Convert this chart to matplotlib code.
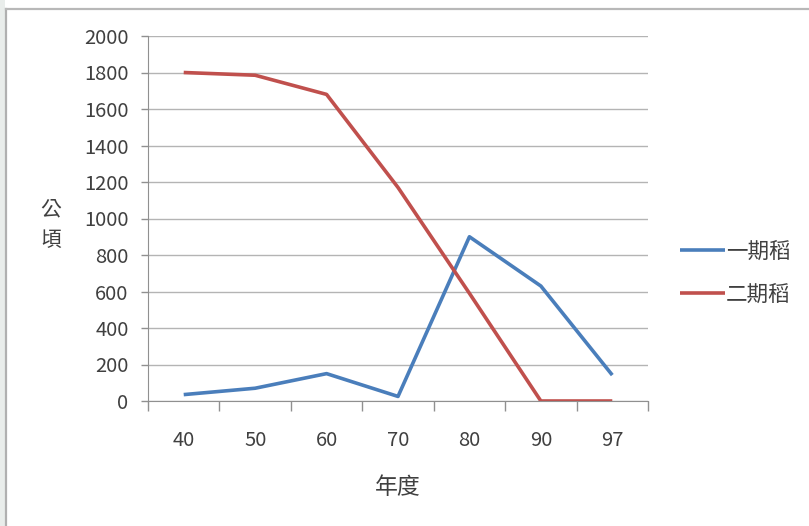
import matplotlib

matplotlib.use("Agg")
import matplotlib.pyplot as plt
from matplotlib.lines import Line2D
from matplotlib.patches import Rectangle

plt.rcParams["font.family"] = ["Noto Sans CJK TC", "DejaVu Sans"]

years = ["40", "50", "60", "70", "80", "90", "97"]
first_crop = [35, 70, 150, 25, 900, 630, 142]
second_crop = [1800, 1785, 1680, 1170, 590, 0, 0]
series_names = ["一期稻", "二期稻"]
y_ticks = list(range(0, 2001, 200))

BLUE = "#4A7EBB"
RED = "#C0504D"
GRID = "#B4B4B4"
TEXT = "#404040"

W, H = 809, 526
fig = plt.figure(figsize=(W / 100, H / 100), dpi=100)
fig.patch.set_facecolor("white")

# screenshot edge: tinted strip on the left, grey frame top and left
fig.patches.append(Rectangle((0, 0), 5 / W, 1, transform=fig.transFigure,
                             facecolor="#E9EDEB", edgecolor="none"))
fig.lines.append(Line2D([6 / W, 6 / W], [0, 1 - 9 / H], transform=fig.transFigure,
                        color="#B0B0B0", linewidth=1.6))
fig.lines.append(Line2D([6 / W, 1], [1 - 9 / H, 1 - 9 / H], transform=fig.transFigure,
                        color="#B8B8B8", linewidth=1.6))

left, right, top, bottom = 148, 648, 36, 401
ax = fig.add_axes([left / W, 1 - bottom / H, (right - left) / W, (bottom - top) / H])

x = list(range(len(years)))
ax.plot(x, first_crop, color=BLUE, linewidth=2.6, label=series_names[0], solid_capstyle="butt")
ax.plot(x, second_crop, color=RED, linewidth=2.6, label=series_names[1], solid_capstyle="butt")

ax.set_xlim(-0.5, len(years) - 0.5)
ax.set_ylim(0, 2000)
ax.set_yticks(y_ticks)
ax.set_yticklabels([str(v) for v in y_ticks], fontsize=14.5, color=TEXT)
ax.set_xticks(x)
ax.set_xticklabels(years, fontsize=14.5, color=TEXT)
ax.set_xticks([i - 0.5 for i in range(len(years) + 1)], minor=True)
ax.tick_params(axis="x", which="major", length=0, pad=21)
ax.tick_params(axis="x", which="minor", length=7, color="#909090", width=1)
ax.tick_params(axis="y", length=5, color="#909090", width=1, pad=9)

ax.grid(axis="y", color=GRID, linewidth=1)
ax.set_axisbelow(True)
for side in ["top", "right"]:
    ax.spines[side].set_visible(False)
ax.spines["left"].set_color("#909090")
ax.spines["bottom"].set_color("#909090")

ax.set_xlabel("年度", fontsize=16.5, color=TEXT, labelpad=18)
ax.set_ylabel("公\n頃", fontsize=15, color=TEXT, rotation=0, va="center", linespacing=1.45)
ax.yaxis.set_label_coords(-0.195, 0.483)

ax.legend(loc="center left", bbox_to_anchor=(1.025, 0.35), frameon=False, fontsize=15.5,
          handlelength=2.1, handletextpad=0.05, labelspacing=0.95,
          labelcolor=TEXT)

fig.savefig("out.png", dpi=100, facecolor="white")
